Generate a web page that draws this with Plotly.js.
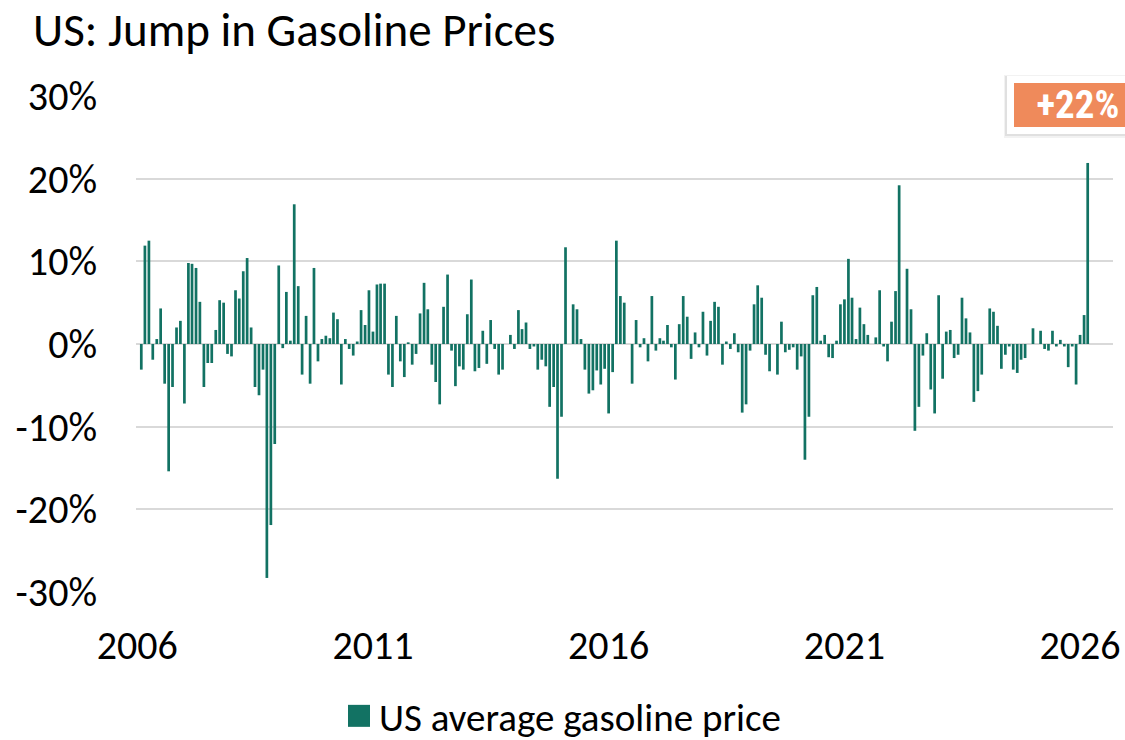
<!DOCTYPE html>
<html>
<head>
<meta charset="utf-8">
<script src="https://cdn.plot.ly/plotly-3.0.1.min.js"></script>
<style>
  html, body { margin: 0; padding: 0; background: #ffffff; }
  #chart { width: 1125px; height: 740px; }
</style>
</head>
<body>
<div id="chart"></div>
<script>
// ---- Data (monthly % change, Feb 2006 .. Mar 2026) ----
const startMonth = "2006-02";
const seriesName = "US average gasoline price";
const gasolineChange = [
  -3.1, 11.9, 12.5, -1.9, 0.6, 4.3, -4.8, -15.4, -5.2, 2.0, 2.8, -7.2, 9.8, 9.7, 9.2, 5.1, -5.2, -2.3, -2.3, 1.7, 5.3, 5.0, -1.2, -1.5, 6.5, 5.5, 8.8, 10.4, 2.0,
  -5.2, -6.2, -3.1, -28.3, -21.9, -12.1, 9.5, -0.5, 6.3, 0.4, 16.9, 7.0, -3.7, 3.4, -4.8, 9.2, -2.1, 0.6, 1.0, 0.7, 3.8, 3.0, -4.9, 0.6, -0.6, -1.4, 0.3, 4.1, 2.3, 6.5, 1.5,
  7.2, 7.3, 7.3, -3.7, -5.2, 3.4, -2.1, -4.0, 0.2, -2.5, -1.2, 3.7, 7.4, 4.2, -2.5, -4.6, -7.3, 4.5, 8.4, -0.8, -5.1, -2.7, -3.1, 3.6, 7.8, -3.3, -2.9, 1.6, -2.4, 2.9, -0.6,
  -3.7, -3.1, 0, 1.1, -0.6, 4.1, 1.8, 2.6, -0.6, -0.3, -3.1, -1.9, -2.7, -7.6, -5.2, -16.3, -8.8, 11.7, 0, 4.8, 4.2, 0.6, -3.1, -6.0, -5.6, -3.2, -4.9, -3.0, -8.4, -3.4,
  12.5, 5.8, 5.0, 0, -4.8, 2.9, -0.4, 0.7, -2.1, 5.8, -0.8, 0.7, 0.4, 2.3, -0.4, -4.3, 2.4, 5.8, 3.3, -1.8, 1.4, -0.4, 3.9, -1.4, 2.8, 5.1, 4.5, -2.5, 0.3, -0.6, 1.3,
  -1.0, -8.3, -7.3, -0.8, 4.8, 7.1, 5.6, -1.3, -3.3, 0, -3.7, 2.7, -1.0, -0.7, -0.4, -3.1, -1.5, -14.0, -8.8, 5.9, 6.9, 0.4, 1.1, -1.6, -1.7, 0.4, 4.8, 5.4, 10.3, 5.6,
  0.6, 4.4, 2.4, 1.1, 0, 0.8, 6.5, -0.3, -2.1, 2.7, 6.4, 19.2, 0, 9.1, 4.2, -10.5, -7.6, -1.4, 1.3, -5.5, -8.4, 5.9, -4.2, 1.5, 1.7, -1.7, -1.3, 5.6, 3.1, 1.4, -7.0,
  -5.7, -3.7, 0, 4.3, 3.9, 2.2, -3.0, -1.3, -0.3, -3.1, -3.5, -1.9, -1.7, 0, 1.9, 0, 1.6, -0.6, -0.8, 1.6, -0.3, 0.5, -0.3, -2.8, -0.3, -4.9, 1.1, 3.5, 21.9
];
const xTickYears = ["2006", "2011", "2016", "2021", "2026"];
const yTickValues = [-30, -20, -10, 0, 10, 20, 30];
const yTickLabels = ["-30%", "-20%", "-10%", "0%", "10%", "20%", "30%"];

// month dates for each bar
const months = [];
{
  let y = parseInt(startMonth.slice(0, 4), 10);
  let m = parseInt(startMonth.slice(5, 7), 10);
  for (let i = 0; i < gasolineChange.length; i++) {
    months.push(y + "-" + String(m).padStart(2, "0") + "-01");
    m++; if (m > 12) { m = 1; y++; }
  }
}

// ---- Styling ----
const W = 1125, H = 740;
const M = { l: 136, r: 12, t: 96, b: 148 };
const FONT = "Carlito, Lato, 'DejaVu Sans', sans-serif";
const BAR = "#127263";
const GRID = "#D9D9D9";
const ORANGE = "#EF8A5B";
const TICK_SIZE = 40;

const plotW = W - M.l - M.r, plotH = H - M.t - M.b;
const px2x = p => (p - M.l) / plotW;
const px2y = p => (H - M.b - p) / plotH;

const last = gasolineChange[gasolineChange.length - 1];
const calloutText = (last >= 0 ? "+" : "") + Math.round(last) + "%";

const trace = {
  type: "bar",
  x: months,
  y: gasolineChange,
  name: seriesName,
  marker: { color: BAR, line: { width: 0 } },
  hovertemplate: "%{x|%b %Y}: %{y:.1f}%<extra></extra>"
};

const layout = {
  width: W, height: H,
  margin: M,
  paper_bgcolor: "#ffffff",
  plot_bgcolor: "#ffffff",
  font: { family: FONT, color: "#000000", size: TICK_SIZE },
  bargap: 0.25,
  title: {
    text: "US: Jump in Gasoline Prices",
    font: { family: FONT, size: 47, color: "#000000" },
    xref: "container", x: 33 / W, xanchor: "left",
    yref: "container", y: 1 - 30 / H, yanchor: "middle"
  },
  xaxis: {
    type: "date",
    range: ["2005-12-22", "2026-09-13"],
    tickmode: "array",
    tickvals: xTickYears.map(y => y + "-01-01"),
    ticktext: xTickYears,
    ticks: "",
    showgrid: false,
    zeroline: false,
    showline: false,
    ticklabelstandoff: 26,
    tickfont: { family: FONT, size: TICK_SIZE, color: "#000000" }
  },
  yaxis: {
    range: [-30, 30],
    tickmode: "array",
    tickvals: yTickValues,
    ticktext: yTickLabels,
    ticks: "",
    showgrid: true,
    gridcolor: GRID,
    gridwidth: 2,
    zeroline: true,
    zerolinecolor: GRID,
    zerolinewidth: 2,
    showline: false,
    ticklabelstandoff: 38,
    tickfont: { family: FONT, size: TICK_SIZE, color: "#000000" }
  },
  showlegend: true,
  legend: {
    orientation: "h",
    xref: "container", x: 339 / W, xanchor: "left",
    yref: "container", y: 1 - 716 / H, yanchor: "middle",
    font: { family: FONT, size: 39, color: "#000000" },
    bgcolor: "rgba(0,0,0,0)"
  },
  shapes: [
    { type: "rect", xref: "paper", yref: "paper", layer: "above",
      x0: px2x(1004), x1: px2x(1135), y0: px2y(138), y1: px2y(75),
      fillcolor: "rgba(0,0,0,0.05)", line: { width: 0 } },
    { type: "rect", xref: "paper", yref: "paper", layer: "above",
      x0: px2x(1005), x1: px2x(1135), y0: px2y(136), y1: px2y(76),
      fillcolor: "rgba(0,0,0,0.07)", line: { width: 0 } }
  ],
  annotations: [
    {
      xref: "paper", yref: "paper",
      x: px2x(1007), xanchor: "left",
      y: px2y(76), yanchor: "top",
      text: "<b>" + calloutText + "</b>",
      showarrow: false,
      bgcolor: ORANGE,
      bordercolor: "#ffffff",
      borderwidth: 7,
      borderpad: 0,
      width: 128,
      height: 44,
      align: "center",
      valign: "middle",
      font: { family: "'Liberation Sans Narrow', 'Roboto Condensed', Roboto, sans-serif", size: 39, color: "#ffffff" }
    }
  ]
};

Plotly.newPlot("chart", [trace], layout, { displayModeBar: false, staticPlot: true }).then(gd => {
  // enlarge the legend swatch to match the reference's larger square
  gd.querySelectorAll(".legend .legendpoints path").forEach(p => {
    p.setAttribute("d", "M11,11H-11V-11H11Z");
  });
});
</script>
</body>
</html>
